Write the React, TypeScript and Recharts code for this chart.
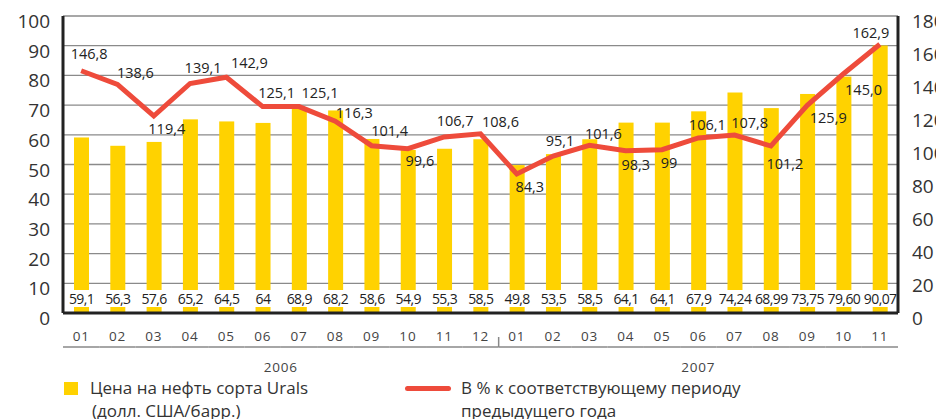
import React from 'react';
import { ComposedChart, Bar, Line, XAxis, YAxis, CartesianGrid } from 'recharts';

const months = ['01', '02', '03', '04', '05', '06', '07', '08', '09', '10', '11', '12', '01', '02', '03', '04', '05', '06', '07', '08', '09', '10', '11'];
const uralsPrice = [59.1, 56.3, 57.6, 65.2, 64.5, 64, 68.9, 68.2, 58.6, 54.9, 55.3, 58.5, 49.8, 53.5, 58.5, 64.1, 64.1, 67.9, 74.24, 68.99, 73.75, 79.6, 90.07];
const uralsPriceLabels = ['59,1', '56,3', '57,6', '65,2', '64,5', '64', '68,9', '68,2', '58,6', '54,9', '55,3', '58,5', '49,8', '53,5', '58,5', '64,1', '64,1', '67,9', '74,24', '68,99', '73,75', '79,60', '90,07'];
const yoyPercent = [146.8, 138.6, 119.4, 139.1, 142.9, 125.1, 125.1, 116.3, 101.4, 99.6, 106.7, 108.6, 84.3, 95.1, 101.6, 98.3, 99, 106.1, 107.8, 101.2, 125.9, 145.0, 162.9];
const yoyLabels = ['146,8', '138,6', '119,4', '139,1', '142,9', '125,1', '125,1', '116,3', '101,4', '99,6', '106,7', '108,6', '84,3', '95,1', '101,6', '98,3', '99', '106,1', '107,8', '101,2', '125,9', '145,0', '162,9'];
const leftTicks = [0, 10, 20, 30, 40, 50, 60, 70, 80, 90, 100];
const rightTicks = [0, 20, 40, 60, 80, 100, 120, 140, 160, 180];
const yearGroups = [
  { label: '2006', start: 0, end: 11 },
  { label: '2007', start: 12, end: 22 },
];
const legendPrice = ['Цена на нефть сорта Urals', '(долл. США/барр.)'];
const legendYoy = ['В % к соответствующему периоду', 'предыдущего года'];

// label placement offsets (style, not data)
const yoyLabelOffsets: [number, number][] = [
  [8, -17], [18, -12], [13, 13], [13, -16], [23, -15], [14, -14], [21, -14], [19, -9],
  [18, -15], [12, 12], [11, -16], [20, -12], [13, 13], [7, -16], [14, -12], [10, 14],
  [7, 13], [9, -13], [15, -13], [14, 17], [21, 12], [20, 16], [-9, -12],
];

const data = months.map((m, i) => ({ month: m, price: uralsPrice[i], yoy: yoyPercent[i] }));

const YELLOW = '#FFD200';
const RED = '#EE4B3B';
const FONT = '"Open Sans", "DejaVu Sans", sans-serif';
const BAND = 835 / 23;

const BarShape = (props: any) => {
  const { x, y, width, height, index } = props;
  const bottom = y + height;
  return (
    <g>
      <rect x={x} y={y} width={width} height={height} fill={YELLOW} />
      <rect x={x - 1} y={bottom - 23} width={width + 2} height={17} fill="#fff" />
      <text x={x + width / 2} y={bottom - 9} textAnchor="middle" fontSize={14} fill="#222" fontFamily={FONT} letterSpacing={-0.6}>
        {uralsPriceLabels[index]}
      </text>
    </g>
  );
};

const LineLabel = (props: any) => {
  const { x, y, index } = props;
  const [dx, dy] = yoyLabelOffsets[index] || [0, -12];
  return (
    <text x={x + dx} y={y + dy} textAnchor="middle" dominantBaseline="central" fontSize={14.5} fill="#222" fontFamily={FONT}>
      {yoyLabels[index]}
    </text>
  );
};

const LeftTick = (props: any) => {
  const { x, y, payload } = props;
  return (
    <text x={x} y={y + 12} textAnchor="end" fontSize={19} fill="#333" fontFamily={FONT}>
      {payload.value}
    </text>
  );
};

const RightTick = (props: any) => {
  const { x, y, payload } = props;
  return (
    <text x={x} y={y + 12} textAnchor="start" fontSize={19} fill="#333" fontFamily={FONT}>
      {payload.value}
    </text>
  );
};

const MonthTick = (props: any) => {
  const { x, y, payload, index } = props;
  const i = payload.index ?? index;
  const group = yearGroups.find((g) => g.start === i);
  return (
    <g>
      <text x={x} y={y + 28} textAnchor="middle" fontSize={13.5} fill="#444" fontFamily={FONT} letterSpacing={0.8}>
        {payload.value}
      </text>
      <line x1={x - BAND / 2} x2={x + BAND / 2} y1={y + 34} y2={y + 34} stroke="#888" strokeWidth={1.5} />
      {i === 11 && <line x1={x + BAND / 2} x2={x + BAND / 2} y1={y + 24} y2={y + 34} stroke="#888" strokeWidth={1.5} />}
      {group && (
        <text x={x + ((group.end - group.start) * BAND) / 2} y={y + 59} textAnchor="middle" fontSize={13.5} fill="#444" fontFamily={FONT} letterSpacing={0.8}>
          {group.label}
        </text>
      )}
    </g>
  );
};

export default function App() {
  return (
    <div style={{ position: 'relative', width: 928, height: 411, overflow: 'hidden', fontFamily: FONT }}>
      <style>{'html,body{overflow:hidden;} body{margin:8px 0 0 8px;width:928px;height:411px;} #root{width:928px;height:411px;}'}</style>
      <ComposedChart width={928} height={411} data={data} margin={{ top: 8, right: 0, left: 0, bottom: 0 }}>
        <CartesianGrid vertical={false} stroke="#8a8a8a" strokeWidth={1.3} yAxisId="left" />
        <XAxis
          dataKey="month"
          xAxisId={0}
          height={106}
          tickLine={false}
          tickSize={0}
          tickMargin={0}
          axisLine={{ stroke: '#222', strokeWidth: 3 }}
          tick={<MonthTick />}
          interval={0}
        />
        <YAxis
          yAxisId="left"
          orientation="left"
          width={55}
          domain={[0, 100]}
          ticks={leftTicks}
          interval={0}
          tickLine={false}
          tickSize={0}
          tickMargin={13}
          axisLine={{ stroke: '#222', strokeWidth: 3 }}
          tick={<LeftTick />}
        />
        <YAxis
          yAxisId="right"
          orientation="right"
          width={38}
          domain={[0, 180]}
          ticks={rightTicks}
          interval={0}
          tickLine={false}
          tickSize={0}
          tickMargin={14}
          axisLine={{ stroke: '#222', strokeWidth: 3 }}
          tick={<RightTick />}
        />
        <Bar dataKey="price" yAxisId="left" barSize={15} isAnimationActive={false} shape={<BarShape />} />
        <Line
          dataKey="yoy"
          yAxisId="right"
          type="linear"
          stroke={RED}
          strokeWidth={5}
          dot={false}
          activeDot={false}
          isAnimationActive={false}
          label={<LineLabel />}
        />
      </ComposedChart>
      <div style={{ position: 'absolute', left: 56, top: 374, width: 14, height: 13, background: YELLOW }} />
      <div style={{ position: 'absolute', left: 82, top: 368, fontSize: 17, lineHeight: '23px', color: '#333' }}>
        <div>{legendPrice[0]}</div>
        <div style={{ paddingLeft: 2 }}>{legendPrice[1]}</div>
      </div>
      <div style={{ position: 'absolute', left: 397, top: 378, width: 46, height: 5, borderRadius: 3, background: RED }} />
      <div style={{ position: 'absolute', left: 453, top: 368, fontSize: 17, lineHeight: '23px', color: '#333' }}>
        <div>{legendYoy[0]}</div>
        <div>{legendYoy[1]}</div>
      </div>
    </div>
  );
}
